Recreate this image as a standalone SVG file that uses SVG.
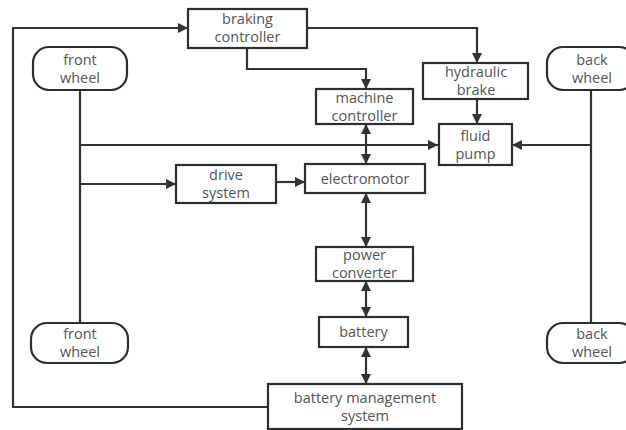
<svg xmlns="http://www.w3.org/2000/svg" width="626" height="430" viewBox="0 0 626 430">
<defs>
<marker id="ah" viewBox="0 0 10 10" refX="10" refY="5" markerWidth="11" markerHeight="10" markerUnits="userSpaceOnUse" orient="auto-start-reverse">
<path d="M0,0 L10,5 L0,10 z" fill="#333"/>
</marker>
<style>
.box{fill:#fff;stroke:#2b2f33;stroke-width:2.2}
.ln{fill:none;stroke:#333;stroke-width:2.2}
text{font-family:"Open Sans","Noto Sans",sans-serif;font-size:14.5px;fill:#555;text-anchor:middle}
</style>
</defs>
<rect width="626" height="430" fill="#fff"/>
<g id="connectors">
<path class="ln" d="M268,407 H13 V28 H188" marker-end="url(#ah)"/>
<path class="ln" d="M80,90 V323"/>
<path class="ln" d="M80,145 H438" marker-end="url(#ah)"/>
<path class="ln" d="M80,184 H176" marker-end="url(#ah)"/>
<path class="ln" d="M276,182 H305" marker-end="url(#ah)"/>
<path class="ln" d="M247,48 V69 H366 V89" marker-end="url(#ah)"/>
<path class="ln" d="M307,28 H477 V63" marker-end="url(#ah)"/>
<path class="ln" d="M477,99 V124" marker-end="url(#ah)"/>
<path class="ln" d="M591,90 V323"/>
<path class="ln" d="M591,145 H512" marker-end="url(#ah)"/>
<path class="ln" d="M366,124 V164" marker-start="url(#ah)" marker-end="url(#ah)"/>
<path class="ln" d="M366,193 V247" marker-start="url(#ah)" marker-end="url(#ah)"/>
<path class="ln" d="M366,281 V317" marker-start="url(#ah)" marker-end="url(#ah)"/>
<path class="ln" d="M366,347 V384" marker-start="url(#ah)" marker-end="url(#ah)"/>
</g>
<g id="braking-controller"><rect class="box" x="188" y="9" width="119" height="39"/><text x="247.5" y="24">braking</text><text x="247.5" y="42">controller</text></g>
<g id="front-wheel-top"><rect class="box" x="33" y="47" width="94" height="43" rx="16"/><text x="80" y="65">front</text><text x="80" y="83">wheel</text></g>
<g id="back-wheel-top"><rect class="box" x="547" y="47" width="88" height="43" rx="16"/><text x="592" y="65">back</text><text x="592" y="83">wheel</text></g>
<g id="hydraulic-brake"><rect class="box" x="423" y="63" width="105" height="36"/><text x="476" y="77">hydraulic</text><text x="476" y="95">brake</text></g>
<g id="machine-controller"><rect class="box" x="316" y="89" width="97" height="35"/><text x="364.5" y="102.5">machine</text><text x="364.5" y="120.5">controller</text></g>
<g id="fluid-pump"><rect class="box" x="439" y="124" width="73" height="41"/><text x="475.5" y="141">fluid</text><text x="475.5" y="159">pump</text></g>
<g id="drive-system"><rect class="box" x="176" y="165" width="100" height="38"/><text x="226" y="180">drive</text><text x="226" y="198">system</text></g>
<g id="electromotor"><rect class="box" x="305" y="164" width="120" height="29"/><text x="365" y="184">electromotor</text></g>
<g id="power-converter"><rect class="box" x="316" y="247" width="97" height="34"/><text x="364.5" y="260">power</text><text x="364.5" y="278">converter</text></g>
<g id="battery"><rect class="box" x="319" y="317" width="89" height="30"/><text x="363.5" y="337">battery</text></g>
<g id="front-wheel-bottom"><rect class="box" x="31" y="323" width="97" height="40" rx="16"/><text x="80" y="339">front</text><text x="80" y="357">wheel</text></g>
<g id="back-wheel-bottom"><rect class="box" x="547" y="323" width="88" height="40" rx="16"/><text x="592" y="339">back</text><text x="592" y="357">wheel</text></g>
<g id="battery-management-system"><rect class="box" x="268" y="384" width="194" height="45"/><text x="365" y="403">battery management</text><text x="365" y="421">system</text></g>
</svg>
